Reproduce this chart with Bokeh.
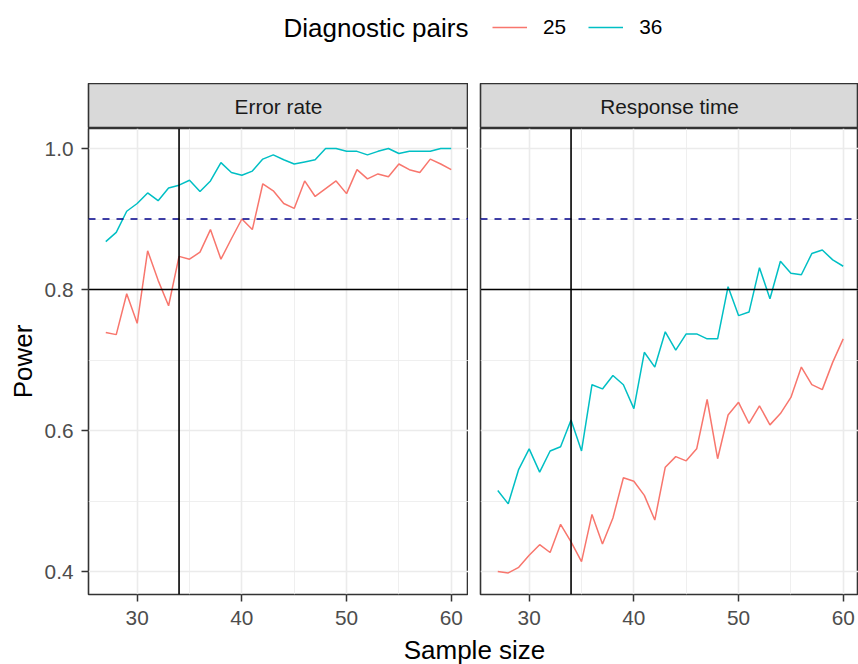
from bokeh.plotting import figure
from bokeh.models import (Range1d, FixedTicker, Span, Legend, LegendItem, Label,
                          PrintfTickFormatter)
from bokeh.layouts import column, row
from bokeh.core.properties import value
from bokeh.embed import file_html
from bokeh.resources import INLINE

# ---------------- data ----------------
sample_size = [27, 28, 29, 30, 31, 32, 33, 34, 35, 36, 37, 38, 39, 40, 41, 42, 43,
               44, 45, 46, 47, 48, 49, 50, 51, 52, 53, 54, 55, 56, 57, 58, 59, 60]

error_rate_25 = [0.739, 0.736, 0.794, 0.752, 0.855, 0.813, 0.777, 0.847, 0.843, 0.853,
                 0.885, 0.843, 0.872, 0.900, 0.885, 0.950, 0.940, 0.922, 0.915, 0.954,
                 0.932, 0.943, 0.954, 0.936, 0.970, 0.957, 0.964, 0.960, 0.978, 0.970,
                 0.966, 0.985, 0.978, 0.970]
error_rate_36 = [0.868, 0.881, 0.911, 0.922, 0.937, 0.926, 0.944, 0.948, 0.955, 0.939,
                 0.954, 0.980, 0.966, 0.962, 0.968, 0.985, 0.991, 0.984, 0.978, 0.981,
                 0.984, 1.000, 1.000, 0.996, 0.996, 0.991, 0.996, 1.000, 0.993, 0.996,
                 0.996, 0.996, 1.000, 1.000]
response_time_25 = [0.400, 0.398, 0.406, 0.423, 0.438, 0.427, 0.467, 0.442, 0.414, 0.481,
                    0.439, 0.476, 0.533, 0.528, 0.508, 0.473, 0.548, 0.563, 0.557, 0.574,
                    0.644, 0.560, 0.622, 0.640, 0.610, 0.635, 0.608, 0.624, 0.647, 0.690,
                    0.665, 0.658, 0.697, 0.730]
response_time_36 = [0.515, 0.496, 0.545, 0.574, 0.541, 0.571, 0.577, 0.615, 0.571, 0.665,
                    0.659, 0.678, 0.665, 0.631, 0.711, 0.690, 0.740, 0.714, 0.737, 0.737,
                    0.730, 0.730, 0.804, 0.763, 0.768, 0.831, 0.787, 0.840, 0.823, 0.821,
                    0.851, 0.856, 0.842, 0.833]

facet_titles = ["Error rate", "Response time"]
group_labels = ["25", "36"]
x_ticks = [30, 40, 50, 60]
x_minor = [35, 45, 55]
y_ticks = [0.4, 0.6, 0.8, 1.0]
y_minor = [0.5, 0.7, 0.9]
ref_sample_size = 34
power_min = 0.8
power_goal = 0.9

# ---------------- style ----------------
FONT = "Liberation Sans"
RED = "#F8766D"
CYAN = "#00BFC4"
BORDER = "#333333"
GRID = "#EBEBEB"
TICK_TXT = "#4D4D4D"
AX_FS = "20.8px"
TITLE_FS = "26px"

X0 = 25.35
PX_PER_UNIT = 380 / 36.3
Y0, Y1 = 0.3674, 1.0284
NAN = float("nan")


def make_strip(text, frame_w, left):
    s = figure(frame_width=frame_w, frame_height=45, x_range=Range1d(0, 1),
               y_range=Range1d(0, 1), x_axis_location=None, y_axis_location=None,
               min_border_left=left, min_border_right=0, min_border_top=0,
               min_border_bottom=0, background_fill_color="#D9D9D9",
               border_fill_color="white", outline_line_color=BORDER,
               outline_line_width=1.6, toolbar_location=None, output_backend="svg")
    s.grid.visible = False
    s.text(x=[0.5], y=[0.5], text=[text], text_align="center", text_baseline="middle",
           text_font=value(FONT), text_font_size=AX_FS, text_color="#1A1A1A")
    return s


def make_panel(y25, y36, frame_w, left, show_y):
    x1 = X0 + frame_w / PX_PER_UNIT
    p = figure(frame_width=frame_w, frame_height=466, x_range=Range1d(X0, x1),
               y_range=Range1d(Y0, Y1), min_border_left=left, min_border_right=0,
               min_border_top=0, min_border_bottom=40, background_fill_color="white",
               border_fill_color="white", outline_line_color=BORDER,
               outline_line_width=1.6, toolbar_location=None, output_backend="svg")
    # axes
    p.xaxis.ticker = FixedTicker(ticks=x_ticks, minor_ticks=x_minor)
    p.yaxis.ticker = FixedTicker(ticks=y_ticks, minor_ticks=y_minor)
    p.yaxis.formatter = PrintfTickFormatter(format="%.1f")
    for ax in (p.xaxis, p.yaxis):
        ax.axis_line_color = None
        ax.major_tick_out = 7
        ax.major_tick_in = 0
        ax.major_tick_line_color = BORDER
        ax.major_tick_line_width = 1.5
        ax.minor_tick_line_color = None
        ax.major_label_text_font = FONT
        ax.major_label_text_font_size = AX_FS
        ax.major_label_text_color = TICK_TXT
    p.xaxis.major_label_standoff = 9
    p.yaxis.major_label_standoff = 8
    if show_y:
        p.yaxis.axis_label = "Power"
        p.yaxis.axis_label_text_font = FONT
        p.yaxis.axis_label_text_font_size = TITLE_FS
        p.yaxis.axis_label_text_font_style = "normal"
        p.yaxis.axis_label_text_color = "black"
        p.yaxis.axis_label_standoff = 4
    else:
        p.yaxis.visible = False
    # grid
    p.xgrid.ticker = FixedTicker(ticks=x_ticks, minor_ticks=x_minor)
    p.ygrid.ticker = FixedTicker(ticks=y_ticks, minor_ticks=y_minor)
    for g in (p.xgrid, p.ygrid):
        g.grid_line_color = GRID
        g.grid_line_width = 1.6
        g.minor_grid_line_color = GRID
        g.minor_grid_line_width = 0.8
    # data
    p.line(sample_size, y25, line_color=RED, line_width=1.5)
    p.line(sample_size, y36, line_color=CYAN, line_width=1.5)
    # reference lines
    p.add_layout(Span(location=power_goal, dimension="width", line_color="#00008B",
                      line_width=1.6, line_dash="7 7"))
    p.add_layout(Span(location=power_min, dimension="width", line_color="black",
                      line_width=1.6))
    p.add_layout(Span(location=ref_sample_size, dimension="height", line_color="black",
                      line_width=1.6))
    return p


# ---------------- legend bar ----------------
top = figure(frame_width=858, frame_height=83, x_range=Range1d(0, 858),
             y_range=Range1d(0, 83), x_axis_location=None, y_axis_location=None,
             min_border=0, outline_line_color=None, toolbar_location=None,
             output_backend="svg")
top.grid.visible = False
# legend proxies (nothing drawn in the plot area)
r25 = top.line(x=[NAN], y=[NAN], line_color=RED, line_width=1.6)
r36 = top.line(x=[NAN], y=[NAN], line_color=CYAN, line_width=1.6)
legend = Legend(items=[LegendItem(label=group_labels[0], renderers=[r25]),
                       LegendItem(label=group_labels[1], renderers=[r36])],
                orientation="horizontal", location=(492, 44), glyph_width=35,
                glyph_height=24, label_height=24, label_standoff=16, spacing=22,
                padding=0, margin=0, border_line_color=None,
                background_fill_alpha=0, label_text_font=FONT,
                label_text_font_size=AX_FS, label_text_color="black")
top.add_layout(legend)
top.add_layout(Label(x=283, y=56, x_units="screen", y_units="screen",
                     text="Diagnostic pairs", text_font=FONT,
                     text_font_size=TITLE_FS, text_baseline="middle",
                     text_color="black"))

# ---------------- panels ----------------
strip_l = make_strip(facet_titles[0], 380, 88)
panel_l = make_panel(error_rate_25, error_rate_36, 380, 88, True)
strip_r = make_strip(facet_titles[1], 378, 12)
panel_r = make_panel(response_time_25, response_time_36, 378, 12, False)

# ---------------- x-axis title ----------------
bottom = figure(frame_width=858, frame_height=30, x_range=Range1d(0, 858),
                y_range=Range1d(0, 30), x_axis_location=None, y_axis_location=None,
                min_border=0, outline_line_color=None, toolbar_location=None,
                output_backend="svg")
bottom.grid.visible = False
bottom.text(x=[474], y=[15], text=["Sample size"], text_align="center",
            text_baseline="middle", text_font=value(FONT), text_font_size=TITLE_FS,
            text_color="black")

layout = column(top,
                row(column(strip_l, panel_l, spacing=0),
                    column(strip_r, panel_r, spacing=0), spacing=0),
                bottom, spacing=0)

open("out.html", "w").write(file_html(layout, INLINE))
